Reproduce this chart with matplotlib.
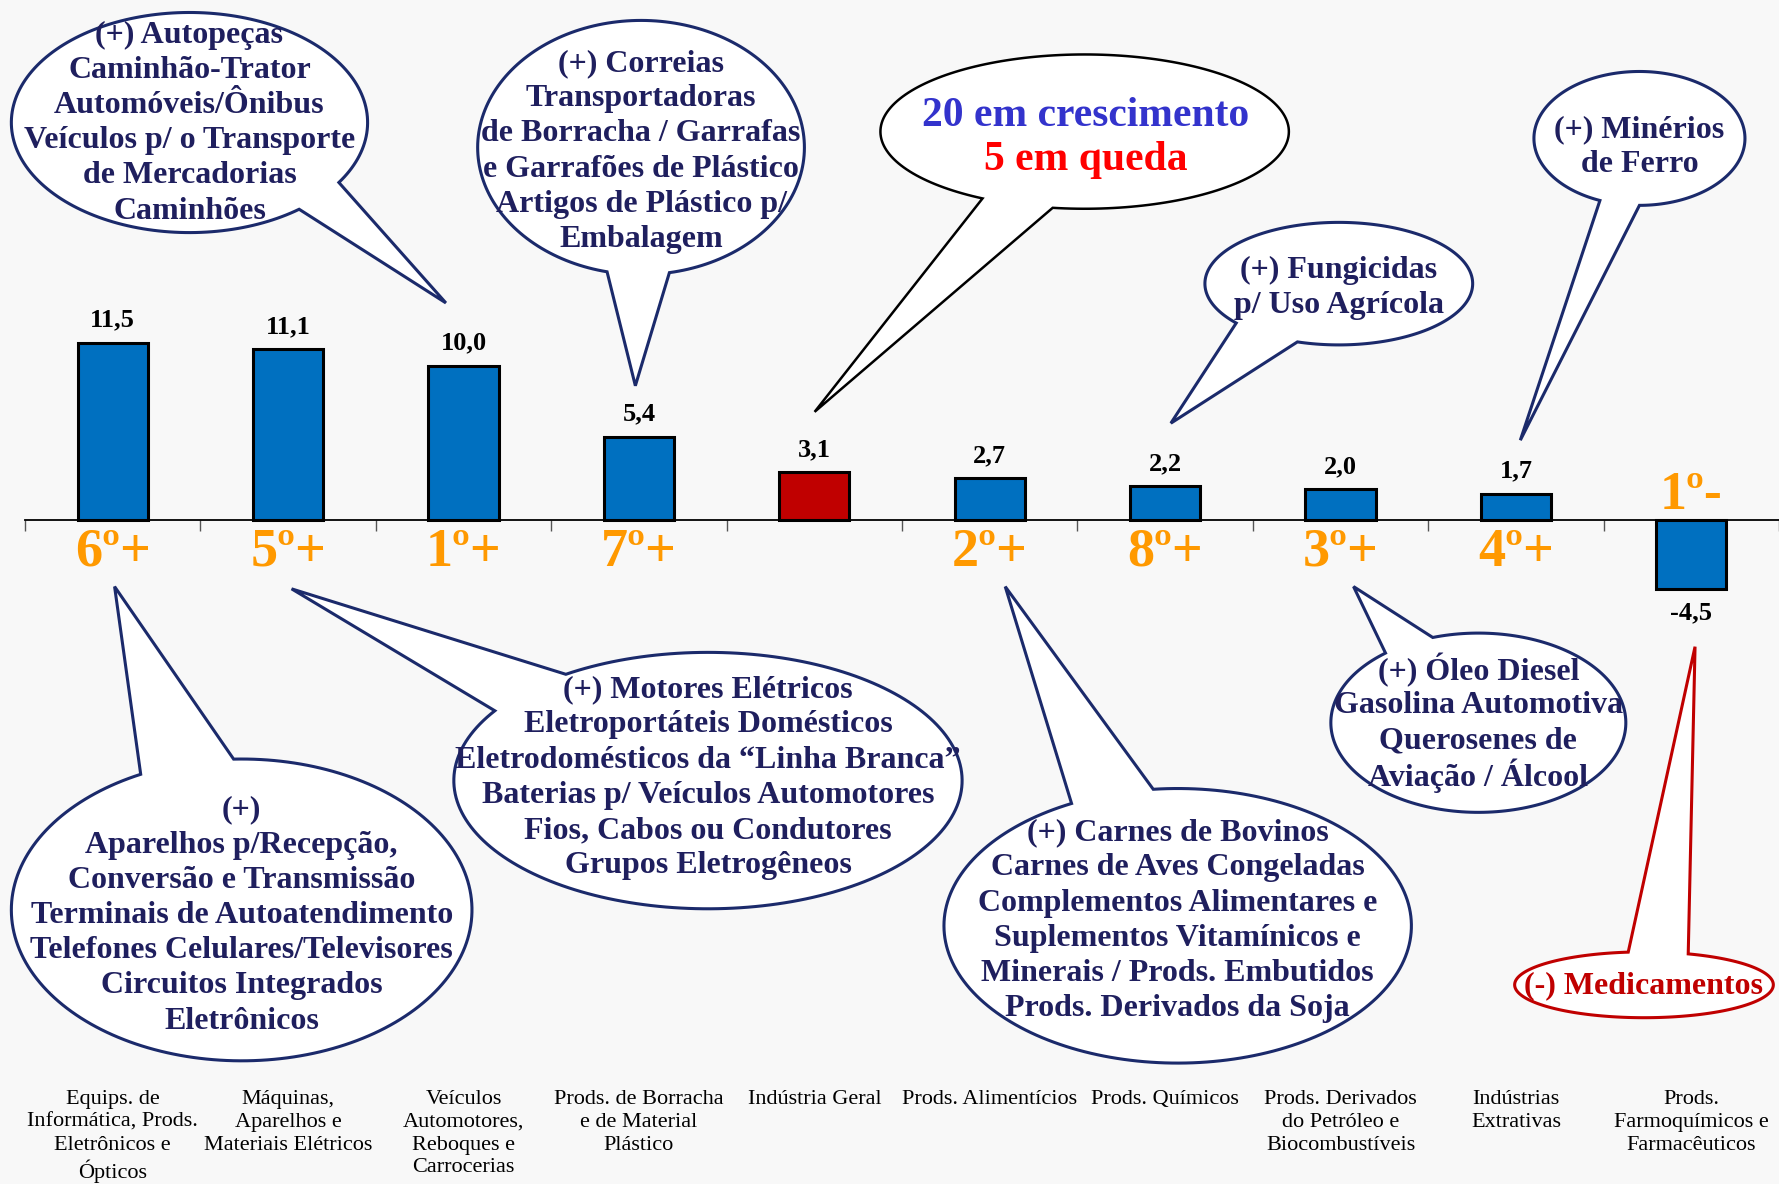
import numpy as np
import matplotlib.pyplot as plt
import matplotlib.transforms as mtransforms
from matplotlib.path import Path
from matplotlib.patches import PathPatch

# data
categories = ['Equips. de\nInformática, Prods.\nEletrônicos e\nÓpticos',
              'Máquinas,\nAparelhos e\nMateriais Elétricos',
              'Veículos\nAutomotores,\nReboques e\nCarrocerias',
              'Prods. de Borracha\ne de Material\nPlástico',
              'Indústria Geral',
              'Prods. Alimentícios',
              'Prods. Químicos',
              'Prods. Derivados\ndo Petróleo e\nBiocombustíveis',
              'Indústrias\nExtrativas',
              'Prods.\nFarmoquímicos e\nFarmacêuticos']
values = [11.5, 11.1, 10.0, 5.4, 3.1, 2.7, 2.2, 2.0, 1.7, -4.5]
ranks = ['6º+', '5º+', '1º+', '7º+', '', '2º+', '8º+', '3º+', '4º+', '1º-']
highlight = 'Indústria Geral'

W, H = 1779, 1184
K = W / 1568

BLUE = '#0070C0'
RED = '#C00000'
ORANGE = '#FF9900'
NAVY = '#1B2A6B'
NAVY_TXT = '#1F1F5E'
BG = '#F8F8F8'

fig = plt.figure(figsize=(W / 100, H / 100), dpi=100, facecolor=BG)
ax = fig.add_axes([0, 0, 1, 1])
ax.set_facecolor(BG)

x = np.arange(len(values))
colors = [RED if c == highlight else BLUE for c in categories]
ax.bar(x, values, width=0.4, color=colors, edgecolor='black', linewidth=2.2, zorder=3)

ax.set_xlim(-0.643, 9.5)
ax.set_ylim(-43.1, 33.75)
for s in ['top', 'right', 'left']:
    ax.spines[s].set_visible(False)
ax.spines['bottom'].set_position(('data', 0))
ax.spines['bottom'].set_bounds(-0.5, 9.5)
ax.spines['bottom'].set_linewidth(1.3)
ax.set_xticks(np.arange(-0.5, 10, 1))
ax.set_xticklabels([])
ax.tick_params(axis='x', direction='out', length=8, width=1, color='#555555')
ax.set_yticks([])

serif = 'Liberation Serif'

# value labels and rank labels
for i, v in enumerate(values):
    lab = f'{v:.1f}'.replace('.', ',')
    if v >= 0:
        ax.annotate(lab, (i, v), xytext=(0, 8), textcoords='offset points',
                    ha='center', va='bottom', fontsize=19, fontweight='bold',
                    family=serif, color='black')
    else:
        ax.annotate(lab, (i, v), xytext=(0, -9), textcoords='offset points',
                    ha='center', va='top', fontsize=19, fontweight='bold',
                    family=serif, color='black')
    if ranks[i]:
        if v >= 0:
            ax.annotate(ranks[i], (i, 0), xytext=(0, -33), textcoords='offset points',
                        ha='center', va='baseline', fontsize=39, fontweight='bold',
                        family=serif, color=ORANGE)
        else:
            ax.annotate(ranks[i], (i, 0), xytext=(0, 8), textcoords='offset points',
                        ha='center', va='baseline', fontsize=39, fontweight='bold',
                        family=serif, color=ORANGE)

# category labels at the bottom
for i, c in enumerate(categories):
    ax.text(i, -37.0, c, ha='center', va='top', fontsize=16, family=serif,
            color='black', linespacing=1.27)

# pixel transform (y down) for the speech bubbles
pix = mtransforms.Affine2D().scale(1 / W, -1 / H).translate(0, 1) + fig.transFigure


def bubble(cx, cy, rx, ry, a1, a2, tip, edge, lw=2.2):
    cx, cy, rx, ry = cx * K, cy * K, rx * K, ry * K
    t = np.radians(np.linspace(a2, a1 + 360, 200))
    px = cx + rx * np.cos(t)
    py = cy + ry * np.sin(t)
    verts = list(zip(px, py)) + [(tip[0] * K, tip[1] * K), (px[0], py[0])]
    codes = [Path.MOVETO] + [Path.LINETO] * (len(verts) - 2) + [Path.CLOSEPOLY]
    patch = PathPatch(Path(verts, codes), facecolor='white', edgecolor=edge,
                      linewidth=lw, transform=pix, zorder=5)
    fig.add_artist(patch)


def lines(xc, y0, step, texts, color=NAVY_TXT, size=23):
    for j, s in enumerate(texts):
        fig.text(xc * K / W, 1 - (y0 + j * step) * K / H, s, ha='center', va='center',
                 fontsize=size, fontweight='bold', family=serif, color=color, zorder=6)


bubble(167, 108, 157, 97, 33, 52, (393, 267), NAVY)
lines(167, 31, 31, ['(+) Autopeças', 'Caminhão-Trator', 'Automóveis/Ônibus',
                    'Veículos p/ o Transporte', 'de Mercadorias', 'Caminhões'])

bubble(565, 130, 144, 112, 80, 102, (560, 340), NAVY)
lines(565, 56, 31, ['(+) Correias', 'Transportadoras', 'de Borracha / Garrafas',
                    'e Garrafões de Plástico', 'Artigos de Plástico p/', 'Embalagem'])

bubble(956, 116, 180, 68, 99, 120, (718, 363), 'black', lw=1.8)
lines(957, 102, 40, ['20 em crescimento'], color='#3333CC', size=30)
lines(957, 141, 40, ['5 em queda'], color='#FF0000', size=30)

bubble(1180, 250, 118, 54, 108, 140, (1032, 373), NAVY)
lines(1180, 238, 31, ['(+) Fungicidas', 'p/ Uso Agrícola'])

bubble(1445, 122, 93, 59, 90, 112, (1340, 388), NAVY)
lines(1445, 114, 31, ['(+) Minérios', 'de Ferro'])

bubble(213, 802, 203, 133, 244, 268, (101, 517), NAVY)
lines(213, 714, 31, ['(+)', 'Aparelhos p/Recepção,', 'Conversão e Transmissão',
                     'Terminais de Autoatendimento', 'Telefones Celulares/Televisores',
                     'Circuitos Integrados', 'Eletrônicos'])

bubble(624, 688, 224, 113, 213, 236, (257, 519), NAVY)
lines(624, 608, 31, ['(+) Motores Elétricos', 'Eletroportáteis Domésticos',
                     'Eletrodomésticos da “Linha Branca”', 'Baterias p/ Veículos Automotores',
                     'Fios, Cabos ou Condutores', 'Grupos Eletrogêneos'])

bubble(1038, 816, 206, 121, 243, 264, (886, 517), NAVY)
lines(1038, 734, 31, ['(+) Carnes de Bovinos', 'Carnes de Aves Congeladas',
                      'Complementos Alimentares e', 'Suplementos Vitamínicos e',
                      'Minerais / Prods. Embutidos', 'Prods. Derivados da Soja'])

bubble(1303, 637, 130, 79, 231, 252, (1193, 517), NAVY)
lines(1303, 591, 31, ['(+) Óleo Diesel', 'Gasolina Automotiva', 'Querosenes de',
                      'Aviação / Álcool'])

bubble(1449, 868, 114, 29, 263, 290, (1494, 570), RED)
lines(1449, 869, 31, ['(-) Medicamentos'], color=RED)

fig.savefig('out.png', dpi=100, facecolor=BG)
